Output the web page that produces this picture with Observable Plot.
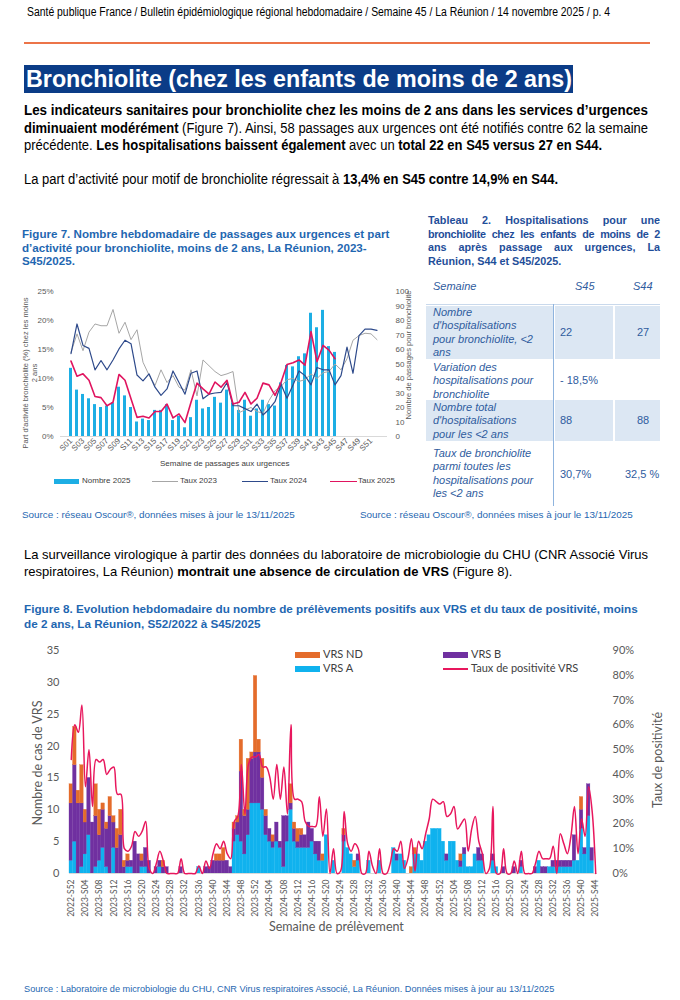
<!DOCTYPE html>
<html><head><meta charset="utf-8">
<script src="https://cdn.jsdelivr.net/npm/d3@7"></script>
<script src="https://cdn.jsdelivr.net/npm/@observablehq/plot@0.6"></script>
<style>
body{margin:0;background:#fff;}
#page{position:relative;width:680px;height:1000px;overflow:hidden;font-family:"Liberation Sans",Arial,sans-serif;color:#000;}
.abs{position:absolute;}
.nw{white-space:nowrap;}
.fit{position:absolute;white-space:nowrap;transform-origin:0 0;font-family:"Liberation Sans",Arial,sans-serif;}
.j{text-align:justify;text-align-last:justify;}
.blue{color:#1F67B1;}
.tt{color:#2F5C9E;font-size:11px;line-height:13.4px;}
.lg{position:absolute;white-space:nowrap;}
</style></head>
<body><div id="page">
<div class="fit" data-w="583" style="left:27px;top:5px;font-size:12px;">Santé publique France / Bulletin épidémiologique régional hebdomadaire / Semaine 45 / La Réunion / 14 novembre 2025 / p. 4</div>
<div class="abs" style="left:24px;top:42px;width:626px;height:2px;background:#EC7448;"></div>
<div class="abs" style="left:24px;top:65px;width:549px;height:28px;background:#0B3C87;"></div>
<div class="fit" data-w="546" style="left:26px;top:65px;color:#fff;font-weight:bold;font-size:24px;line-height:28px;">Bronchiolite (chez les enfants de moins de 2 ans)</div>

<div class="fit" data-w="624" style="left:24px;top:102px;font-size:14px;line-height:17.5px;font-weight:bold;">Les indicateurs sanitaires pour bronchiolite chez les moins de 2 ans dans les services d’urgences</div>
<div class="fit" data-w="624" style="left:24px;top:119.5px;font-size:14px;line-height:17.5px;"><b>diminuaient modérément</b> (Figure 7). Ainsi, 58 passages aux urgences ont été notifiés contre 62 la semaine</div>
<div class="fit" data-w="578" style="left:24px;top:137px;font-size:14px;line-height:17.5px;">précédente. <b>Les hospitalisations baissent également</b> avec un <b>total 22 en S45 versus 27 en S44.</b></div>
<div class="fit" data-w="534" style="left:24px;top:170.5px;font-size:14px;line-height:17.5px;">La part d’activité pour motif de bronchiolite régressait à <b>13,4% en S45 contre 14,9% en S44.</b></div>

<div class="abs nw blue" style="left:22px;top:227px;font-size:11.6px;line-height:13.5px;font-weight:bold;">Figure 7. Nombre hebdomadaire de passages aux urgences et part<br>d’activité pour bronchiolite, moins de 2 ans, La Réunion, 2023-<br>S45/2025.</div>

<div class="abs" style="left:428px;top:214px;width:232px;font-size:10.8px;line-height:13.5px;font-weight:bold;color:#1F4E99;">
<div class="j nw">Tableau 2. Hospitalisations pour une</div>
<div class="j nw" style="letter-spacing:-0.35px;">bronchiolite chez les enfants de moins de 2</div>
<div class="j nw">ans après passage aux urgences, La</div>
<div class="nw">Réunion, S44 et S45/2025.</div>
</div>

<!-- table -->
<div class="abs" style="left:426px;top:306px;width:127px;height:53px;background:#DCE7F3;"></div>
<div class="abs" style="left:555px;top:306px;width:58px;height:53px;background:#DCE7F3;"></div>
<div class="abs" style="left:615px;top:306px;width:45px;height:53px;background:#DCE7F3;"></div>
<div class="abs" style="left:426px;top:400px;width:127px;height:41px;background:#DCE7F3;"></div>
<div class="abs" style="left:555px;top:400px;width:58px;height:41px;background:#DCE7F3;"></div>
<div class="abs" style="left:615px;top:400px;width:45px;height:41px;background:#DCE7F3;"></div>
<div class="abs" style="left:426px;top:304px;width:234px;height:1px;background:#C9D9EC;"></div>
<div class="abs" style="left:553px;top:304px;width:1px;height:202px;background:#8FB4DE;"></div>
<div class="abs nw tt" style="left:433px;top:280px;"><i>Semaine</i></div>
<div class="abs nw tt" style="left:575px;top:280px;"><i>S45</i></div>
<div class="abs nw tt" style="left:633px;top:280px;"><i>S44</i></div>
<div class="abs nw tt" style="left:433px;top:306px;"><i>Nombre<br>d'hospitalisations<br>pour bronchiolite, &lt;2<br>ans</i></div>
<div class="abs nw tt" style="left:560px;top:326px;">22</div>
<div class="abs nw tt" style="left:637px;top:326px;">27</div>
<div class="abs nw tt" style="left:433px;top:361px;"><i>Variation des<br>hospitalisations pour<br>bronchiolite</i></div>
<div class="abs nw tt" style="left:560px;top:374px;">- 18,5%</div>
<div class="abs nw tt" style="left:433px;top:401px;"><i>Nombre total<br>d'hospitalisations<br>pour les &lt;2 ans</i></div>
<div class="abs nw tt" style="left:560px;top:414px;">88</div>
<div class="abs nw tt" style="left:637px;top:414px;">88</div>
<div class="abs nw tt" style="left:433px;top:447px;"><i>Taux de bronchiolite<br>parmi toutes les<br>hospitalisations pour<br>les &lt;2 ans</i></div>
<div class="abs nw tt" style="left:560px;top:468px;">30,7%</div>
<div class="abs nw tt" style="left:625px;top:468px;">32,5 %</div>

<!-- figure 7 -->
<div id="fig7" class="abs" style="left:15px;top:283px;"></div>
<div class="abs nw" style="left:23px;top:292px;width:14px;height:162px;">
 <div class="abs nw" style="left:50%;top:50%;transform:translate(-50%,-50%) rotate(-90deg);font-size:7.5px;line-height:8.5px;color:#595959;text-align:center;">Part d’activité bronchiolite (%) chez les moins<br>2 ans</div>
</div>
<div class="abs nw" style="left:404px;top:300px;width:8px;height:110px;">
 <div class="abs nw" style="left:50%;top:50%;transform:translate(-50%,-50%) rotate(-90deg);font-size:7.5px;color:#595959;">Nombre de passages pour bronchiolite</div>
</div>
<div class="abs nw" style="left:160px;top:459px;font-size:8px;color:#404040;">Semaine de passages aux urgences</div>
<div class="lg" style="left:54px;top:479px;width:25px;height:5px;background:#1DAEE4;"></div>
<div class="lg" style="left:82px;top:476px;font-size:8px;color:#404040;">Nombre 2025</div>
<div class="lg" style="left:152px;top:481px;width:26px;height:1px;background:#A6A6A6;"></div>
<div class="lg" style="left:180px;top:476px;font-size:8px;color:#404040;">Taux 2023</div>
<div class="lg" style="left:242px;top:480.5px;width:26px;height:1.5px;background:#2E4A8B;"></div>
<div class="lg" style="left:270px;top:476px;font-size:8px;color:#404040;">Taux 2024</div>
<div class="lg" style="left:330px;top:480.5px;width:27px;height:1.8px;background:#E0145F;"></div>
<div class="lg" style="left:358px;top:476px;font-size:8px;color:#404040;">Taux 2025</div>

<div class="abs nw blue" style="left:22px;top:509px;font-size:9.9px;">Source : réseau Oscour®, données mises à jour le 13/11/2025</div>
<div class="abs nw blue" style="left:360px;top:509px;font-size:9.9px;">Source : réseau Oscour®, données mises à jour le 13/11/2025</div>

<div class="abs" style="left:24px;top:546px;width:624px;font-size:13px;line-height:17px;">
<div class="j nw">La surveillance virologique à partir des données du laboratoire de microbiologie du CHU (CNR Associé Virus</div>
<div class="nw">respiratoires, La Réunion) <b>montrait une absence de circulation de VRS</b> (Figure 8).</div>
</div>

<div class="abs nw blue" style="left:24px;top:601px;font-size:11.7px;line-height:15px;font-weight:bold;">Figure 8. Evolution hebdomadaire du nombre de prélèvements positifs aux VRS et du taux de positivité, moins<br>de 2 ans, La Réunion, S52/2022 à S45/2025</div>

<!-- figure 8 -->
<div id="fig8" class="abs" style="left:0px;top:640px;"></div>
<div class="abs nw" style="left:30px;top:680px;width:14px;height:165px;">
 <div class="abs nw" style="left:50%;top:50%;transform:translate(-50%,-50%) rotate(-90deg);font-family:Lato,sans-serif;font-size:12.5px;color:#595959;">Nombre de cas de VRS</div>
</div>
<div class="abs nw" style="left:650px;top:700px;width:14px;height:120px;">
 <div class="abs nw" style="left:50%;top:50%;transform:translate(-50%,-50%) rotate(-90deg);font-family:Lato,sans-serif;font-size:12.5px;color:#595959;">Taux de positivité</div>
</div>
<div class="abs nw" style="left:269px;top:919px;font-family:Lato,sans-serif;font-size:12.5px;color:#595959;">Semaine de prélèvement</div>
<div class="lg" style="left:295px;top:652px;width:25px;height:6px;background:#E46C2B;"></div>
<div class="lg" style="left:323px;top:647px;font-family:Lato,sans-serif;font-size:11px;color:#404040;">VRS ND</div>
<div class="lg" style="left:295px;top:666px;width:25px;height:6px;background:#10B2EE;"></div>
<div class="lg" style="left:323px;top:661px;font-family:Lato,sans-serif;font-size:11px;color:#404040;">VRS A</div>
<div class="lg" style="left:443px;top:652px;width:25px;height:6px;background:#7030A0;"></div>
<div class="lg" style="left:471px;top:647px;font-family:Lato,sans-serif;font-size:11px;color:#404040;">VRS B</div>
<div class="lg" style="left:443px;top:668px;width:25px;height:1.6px;background:#E8175D;"></div>
<div class="lg" style="left:471px;top:661px;font-family:Lato,sans-serif;font-size:11px;color:#404040;">Taux de positivité VRS</div>

<div class="abs nw blue" style="left:24px;top:984px;font-size:9.2px;">Source : Laboratoire de microbiologie du CHU, CNR Virus respiratoires Associé, La Réunion. Données mises à jour au 13/11/2025</div>
</div>

<script>
// condensed (Arial Narrow–like) text: scale each line horizontally to its measured width
document.querySelectorAll(".fit").forEach(el => {
  const w = el.getBoundingClientRect().width;
  el.style.transform = `scaleX(${(+el.dataset.w) / w})`;
});

// ---------- Figure 7 data ----------
const weeks7 = ["S01","S02","S03","S04","S05","S06","S07","S08","S09","S10","S11","S12","S13","S14","S15","S16","S17","S18","S19","S20","S21","S22","S23","S24","S25","S26","S27","S28","S29","S30","S31","S32","S33","S34","S35","S36","S37","S38","S39","S40","S41","S42","S43","S44","S45","S46","S47","S48","S49","S50","S51","S52"];
const nombre2025 = [47,32,29,26,22,20,21,23,34,28,20,10,12,11,18,18,22,11,14,6,13,25,19,20,27,23,32,23,18,25,14,19,25,22,21,37,49,48,55,57,85,75,87,62,58];
const taux2025 = [13.0,10.4,10.8,9.7,6.9,6.7,5.3,5.9,10.7,9.7,6.5,3.3,3.5,3.2,4.3,4.3,5.6,3.2,3.9,2.4,5.9,9.2,8.2,7.3,9.4,8.5,9.7,5.6,5.9,7.6,5.6,6.6,9.2,8.9,7.1,9.3,12.4,12.7,13.2,12.3,18.1,12.9,15.7,14.9,13.4];
const taux2024 = [14.3,19.4,15.7,15.2,11.5,13.1,11.5,13.2,15.1,16.6,16.0,10.6,9.6,10.8,8.5,7.1,8.2,11.3,9.3,7.3,10.9,11.3,6.5,7.3,7.5,7.6,9.3,5.3,5.3,4.8,4.3,5.6,3.7,4.7,6.0,9.0,6.6,8.9,11.3,10.5,8.9,11.9,11.5,11.5,8.9,10.5,15.4,10.9,17.4,18.5,18.5,18.3];
const taux2023 = [14.5,17.7,14.8,18.0,19.4,19.1,19.1,21.9,17.8,19.7,16.7,18.4,12.8,10.6,8.8,11.5,9.3,10.5,8.5,8.0,11.5,7.0,13.2,12.2,11.2,10.5,10.8,11.2,4.1,4.6,5.0,4.3,4.0,6.2,7.9,8.6,9.8,10.0,9.5,9.8,10.8,10.0,11.0,11.2,12.5,11.5,13.4,16.6,17.4,17.8,17.7,16.7];
const pctTicks7 = [0,5,10,15,20,25];
const countTicks7 = [0,10,20,30,40,50,60,70,80,90,100];

// ---------- Figure 8 data ----------
const yearBlocks8 = [["2022",52,52],["2023",1,52],["2024",1,52],["2025",1,44]];
const weeks8 = yearBlocks8.flatMap(([y,a,b]) => d3.range(a,b+1).map(w => `${y}-S${String(w).padStart(2,"0")}`));
const vrsA = [2,5,0,1,3,6,0,1,2,4, 1,0,4,0,0,0,1,1,0,0, 1,1,0,0,0,1,0,0,0,0, 0,0,0,0,0,0,1,0,0,0, 0,0,0,0,0,0,5,6,5,3, 6,11,11,11,10,6,5,4,5,4, 1,5,10,5,4,4,4,4,5,3, 2,2,6,0,2,0,0,5,4,3, 1,2,0,0,2,0,0,2,0,0, 0,4,2,3,2,0,0,3,3,2, 5,6,7,7,7,5,2,5,5,2, 1,3,1,1,3,2,2,0,0,2, 1,0,0,0,0,0,0,1,0,0, 0,0,2,0,0,1,1,1,1,1, 1,1,2,2,7,3,9,2,0];
const vrsB = [9,12,11,10,5,9,8,8,4,6, 6,9,4,4,6,1,1,1,5,3, 1,3,2,0,1,1,1,1,0,0, 0,1,0,0,0,0,0,0,1,1, 2,2,2,2,2,1,2,2,11,6, 4,7,8,8,5,3,2,1,3,1, 8,4,1,2,1,2,2,4,2,2, 3,0,0,0,0,0,0,1,0,0, 0,1,0,0,0,0,0,0,0,0, 0,0,1,0,0,0,0,0,0,0, 0,0,0,0,0,0,1,0,0,0, 1,1,0,0,0,2,1,0,0,1, 0,0,1,0,0,1,0,1,0,0, 0,1,0,1,1,0,1,1,1,1, 1,1,4,0,3,1,5,2,0];
const vrsND = [3,6,2,6,2,0,0,5,4,1, 1,3,1,3,4,1,1,0,0,0, 1,0,0,0,0,0,1,0,0,0, 0,0,0,0,0,0,0,0,0,0, 0,1,1,2,0,0,1,1,5,1, 8,1,12,2,3,1,0,1,0,0, 0,0,3,1,2,1,0,0,0,0, 0,1,0,0,0,0,0,1,0,0, 1,0,0,0,0,0,0,0,0,0, 0,0,0,0,0,0,1,1,0,0, 0,0,0,0,0,0,0,0,0,0, 1,0,0,0,0,0,0,0,0,0, 0,0,0,0,0,0,0,0,0,0, 0,0,0,0,0,0,0,0,0,0, 0,0,0,0,2,0,0,0,0];
const tauxPos = [46,60,57,68,35,50,27,46,45,46, 40,42,43,32,32,10,9,11,17,15, 17,21,2,0,4,9,5,0,0,0, 0,6,0,0,0,0,3,0,5,2, 8,12,10,13,8,6,21,23,44,24, 44,47,47,48,43,43,39,30,44,30, 43,24,60,30,30,29,21,19,19,19, 31,15,26,0,10,0,1,25,12,9, 12,10,0,0,9,3,0,10,0,0, 4,10,9,13,2,6,14,1,13,10, 16,22,30,29,28,29,23,24,27,18, 20,22,9,18,23,13,8,0,2,27, 0,0,10,0,0,5,0,9,0,0, 0,4,9,6,6,6,11,0,16,12, 8,15,27,8,22,15,35,25,0];
const countTicks8 = [0,5,10,15,20,25,30,35];
const pctTicks8 = [0,10,20,30,40,50,60,70,80,90];
const seriesNames8 = ["VRS A","VRS B","VRS ND"];
const seriesColors8 = ["#10B2EE","#7030A0","#E46C2B"];

// ---------- Figure 7 ----------
{
  const bars = nombre2025.map((n,i) => ({week: weeks7[i], n}));
  const lines = [
    ...taux2023.map((v,i)=>({week:weeks7[i], v, s:"2023"})),
    ...taux2024.map((v,i)=>({week:weeks7[i], v, s:"2024"})),
    ...taux2025.map((v,i)=>({week:weeks7[i], v, s:"2025"}))
  ];
  const chart = Plot.plot({
    width: 400, height: 190,
    marginLeft: 45, marginRight: 28, marginTop: 8, marginBottom: 37,
    style: {fontFamily: "Liberation Sans, Arial, sans-serif", fontSize: "8px", color: "#595959", background: "transparent", overflow: "visible"},
    x: {type: "band", domain: weeks7, padding: 0.44},
    y: {domain: [0, 25]},
    marks: [
      Plot.barY(bars, {x: "week", y: d => d.n / 4, fill: "#1DAEE4"}),
      Plot.ruleY([0], {stroke: "#D9D9D9"}),
      Plot.line(lines.filter(d=>d.s==="2023"), {x: "week", y: "v", stroke: "#A6A6A6", strokeWidth: 1}),
      Plot.line(lines.filter(d=>d.s==="2024"), {x: "week", y: "v", stroke: "#2E4A8B", strokeWidth: 1.2}),
      Plot.line(lines.filter(d=>d.s==="2025"), {x: "week", y: "v", stroke: "#E0145F", strokeWidth: 1.6}),
      Plot.axisY({ticks: pctTicks7, tickFormat: d => d + "%", tickSize: 0, tickPadding: 7, label: null}),
      Plot.axisY({anchor: "right", ticks: countTicks7.map(c => c / 4), tickFormat: d => Math.round(d * 4), tickSize: 0, tickPadding: 8, label: null}),
      Plot.axisX({ticks: weeks7.filter((d,i) => i % 2 === 0), tickRotate: -45, tickSize: 0, tickPadding: 3, label: null})
    ]
  });
  document.getElementById("fig7").appendChild(chart);
}

// ---------- Figure 8 ----------
{
  const rows = weeks8.flatMap((w,i) => [
    {week: w, type: "VRS A", n: vrsA[i]},
    {week: w, type: "VRS B", n: vrsB[i]},
    {week: w, type: "VRS ND", n: vrsND[i]}
  ]);
  const rate = weeks8.map((w,i) => ({week: w, p: tauxPos[i]}));
  const k = 35 / 90;
  const chart = Plot.plot({
    width: 680, height: 300,
    marginLeft: 69, marginRight: 83, marginTop: 10, marginBottom: 67,
    style: {fontFamily: "Lato, sans-serif", fontSize: "11px", color: "#595959", background: "transparent", overflow: "visible"},
    x: {type: "band", domain: weeks8, padding: 0},
    y: {domain: [0, 35]},
    color: {domain: seriesNames8, range: seriesColors8},
    marks: [
      Plot.barY(rows, {x: "week", y: "n", fill: "type", stroke: "type", strokeWidth: 0.3, order: seriesNames8}),
      Plot.ruleY([0], {stroke: "#D9D9D9"}),
      Plot.line(rate, {x: "week", y: d => d.p * k, stroke: "#E8175D", strokeWidth: 1.5, curve: "catmull-rom"}),
      Plot.axisY({ticks: countTicks8, tickSize: 0, tickPadding: 10, label: null}),
      Plot.axisY({anchor: "right", ticks: pctTicks8.map(p => p * k), tickFormat: d => Math.round(d / k) + "%", tickSize: 0, tickPadding: 15, label: null}),
      Plot.axisX({ticks: weeks8.filter((d,i) => i % 4 === 0), tickRotate: -90, tickSize: 0, tickPadding: 6, fontSize: 8.5, label: null})
    ]
  });
  document.getElementById("fig8").appendChild(chart);
}
</script>
</body></html>
